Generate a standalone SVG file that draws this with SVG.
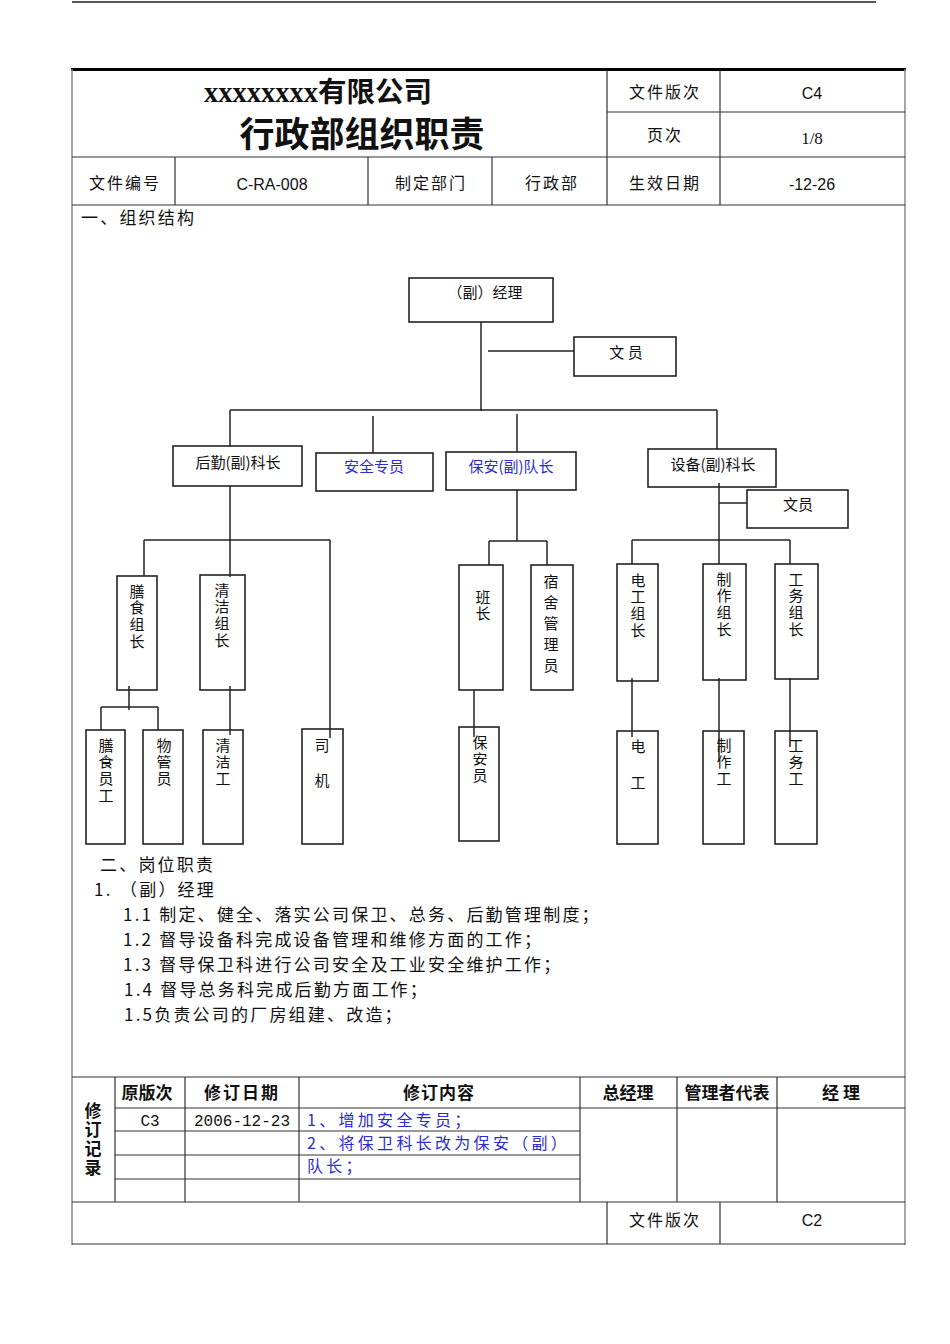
<svg xmlns="http://www.w3.org/2000/svg" width="950" height="1344" viewBox="0 0 950 1344">
<style>
.bg{fill:#fff}
.frame{stroke:#888;stroke-width:1.5;fill:none}
.grid{stroke:#333;stroke-width:1.2;fill:none}
.thick{stroke:#000;stroke-width:3;fill:none}
.bx{fill:#fff;stroke:#222;stroke-width:1.6}
.ln{stroke:#222;stroke-width:1.5;fill:none}
.t{font-family:"Noto Sans CJK SC",sans-serif;font-size:15px;fill:#111}
.c{text-anchor:middle}
.v{writing-mode:vertical-rl;text-orientation:upright;letter-spacing:1.8px}
.blue{fill:#2b2bd0}
.hd{font-family:"Noto Sans CJK SC",sans-serif;font-size:16px;fill:#111;letter-spacing:2px;text-anchor:middle}
.num{font-family:"Liberation Sans",sans-serif;font-size:16px;fill:#111;text-anchor:middle}
.body{font-family:"Noto Sans CJK SC",sans-serif;font-size:17px;fill:#111;letter-spacing:2.2px}
.bold{font-family:"Noto Sans CJK SC",sans-serif;font-weight:700;fill:#111}
.mono{font-family:"Liberation Mono",monospace;font-size:16px;fill:#111;text-anchor:middle}
.rev{font-family:"Noto Sans CJK SC",sans-serif;font-size:16px;fill:#2b2bd0;letter-spacing:3.3px}
</style>
<rect class="bg" x="0" y="0" width="950" height="1344"/>

<!-- page top rule -->
<line x1="72" y1="2" x2="876" y2="2" stroke="#222" stroke-width="1.5"/>

<!-- header table -->
<g id="header">
  <line class="thick" x1="71" y1="69.5" x2="906" y2="69.5"/>
  <line class="frame" x1="72" y1="69" x2="72" y2="1245"/>
  <line class="frame" x1="905" y1="69" x2="905" y2="1245"/>
  <line class="grid" x1="607" y1="70" x2="607" y2="205"/>
  <line class="grid" x1="720" y1="70" x2="720" y2="205"/>
  <line class="grid" x1="607" y1="112" x2="905" y2="112"/>
  <line class="grid" x1="72" y1="157" x2="905" y2="157"/>
  <line class="grid" x1="72" y1="205" x2="905" y2="205"/>
  <line class="grid" x1="175" y1="157" x2="175" y2="205"/>
  <line class="grid" x1="368" y1="157" x2="368" y2="205"/>
  <line class="grid" x1="492" y1="157" x2="492" y2="205"/>
  <text x="204" y="102" font-family="Liberation Serif,serif" font-weight="700" font-size="28.5" fill="#111">xxxxxxxx<tspan class="bold" font-size="28.5">有限公司</tspan></text>
  <text class="bold" x="362" y="147" font-size="35" text-anchor="middle">行政部组织职责</text>
  <text class="hd" x="665" y="98">文件版次</text>
  <text class="num" x="812" y="99">C4</text>
  <text class="hd" x="665" y="141">页次</text>
  <text x="812" y="144" font-family="Liberation Serif,serif" font-size="17" fill="#111" text-anchor="middle">1/8</text>
  <text class="hd" x="125" y="189">文件编号</text>
  <text class="num" x="272" y="190">C-RA-008</text>
  <text class="hd" x="431" y="189">制定部门</text>
  <text class="hd" x="552" y="189">行政部</text>
  <text class="hd" x="665" y="189">生效日期</text>
  <text class="num" x="812" y="190">-12-26</text>
</g>

<text class="body" x="81" y="224" letter-spacing="2">一、组织结构</text>

<!-- org chart nodes -->
<g id="n-mgr"><rect class="bx" x="409" y="278" width="144" height="44"/><text class="t c" x="485" y="298">（副）经理</text></g>
<g id="n-clerk1"><rect class="bx" x="574" y="337" width="102" height="39"/><text class="t c" x="626" y="358" xml:space="preserve">文 员</text></g>
<g id="n-hq"><rect class="bx" x="173" y="446" width="129" height="40"/><text class="t c" x="238" y="468" font-size="16">后勤(副)科长</text></g>
<g id="n-safety"><rect class="bx" x="316" y="453" width="117" height="38"/><text class="t c blue" x="374" y="472" font-size="16">安全专员</text></g>
<g id="n-guard"><rect class="bx" x="446" y="452" width="130" height="38"/><text class="t c blue" x="511" y="472" font-size="16">保安(副)队长</text></g>
<g id="n-equip"><rect class="bx" x="648" y="449" width="128" height="38"/><text class="t c" x="713" y="470" font-size="16">设备(副)科长</text></g>
<g id="n-clerk2"><rect class="bx" x="747" y="490" width="101" height="38"/><text class="t c" x="798" y="510">文员</text></g>

<g id="n-food-lead"><rect class="bx" x="117" y="576" width="40" height="114"/><text class="t v" x="137" y="583.5">膳食组长</text></g>
<g id="n-clean-lead"><rect class="bx" x="200" y="575" width="45" height="115"/><text class="t v" x="222" y="582.5">清洁组长</text></g>
<g id="n-food-staff"><rect class="bx" x="86" y="730" width="39" height="114"/><text class="t v" x="106" y="737.5">膳食员工</text></g>
<g id="n-store"><rect class="bx" x="143" y="730" width="40" height="114"/><text class="t v" x="164" y="737.5">物管员</text></g>
<g id="n-cleaner"><rect class="bx" x="203" y="730" width="40" height="114"/><text class="t v" x="223" y="737.5">清洁工</text></g>
<g id="n-driver"><rect class="bx" x="302" y="729" width="41" height="115"/><text class="t v" x="322" y="737.5" style="letter-spacing:20px">司机</text></g>

<g id="n-squad"><rect class="bx" x="459" y="565" width="44" height="125"/><text class="t v" x="483" y="589.5">班长</text></g>
<g id="n-dorm"><rect class="bx" x="531" y="565" width="42" height="125"/><text class="t v" x="551" y="573.5" style="letter-spacing:6px">宿舍管理员</text></g>
<g id="n-guardman"><rect class="bx" x="459" y="727" width="40" height="114"/><text class="t v" x="480" y="734.5">保安员</text></g>

<g id="n-elec-lead"><rect class="bx" x="617" y="564" width="41" height="117"/><text class="t v" x="638" y="572.5">电工组长</text></g>
<g id="n-make-lead"><rect class="bx" x="703" y="564" width="43" height="116"/><text class="t v" x="724" y="571.5">制作组长</text></g>
<g id="n-work-lead"><rect class="bx" x="775" y="564" width="43" height="115"/><text class="t v" x="796" y="571.5">工务组长</text></g>
<g id="n-elec"><rect class="bx" x="617" y="731" width="41" height="113"/><text class="t v" x="638" y="738.5" style="letter-spacing:21px">电工</text></g>
<g id="n-make"><rect class="bx" x="703" y="731" width="41" height="113"/><text class="t v" x="724" y="737.5">制作工</text></g>
<g id="n-work"><rect class="bx" x="775" y="731" width="42" height="113"/><text class="t v" x="796" y="737.5">工务工</text></g>

<!-- connectors -->
<g id="connectors" class="ln">
  <line x1="481" y1="322" x2="481" y2="411"/>
  <line x1="488" y1="351" x2="574" y2="351"/>
  <line x1="230" y1="410" x2="717" y2="410"/>
  <line x1="230" y1="410" x2="230" y2="446"/>
  <line x1="373" y1="416" x2="373" y2="453"/>
  <line x1="517" y1="414" x2="517" y2="452"/>
  <line x1="717" y1="410" x2="717" y2="449"/>

  <line x1="230" y1="486" x2="230" y2="577"/>
  <line x1="144" y1="540" x2="330" y2="540"/>
  <line x1="144" y1="540" x2="144" y2="576"/>
  <line x1="330" y1="540" x2="330" y2="738"/>
  <line x1="129" y1="686" x2="129" y2="710"/>
  <line x1="101" y1="707" x2="158" y2="707"/>
  <line x1="101" y1="707" x2="101" y2="730"/>
  <line x1="158" y1="707" x2="158" y2="730"/>
  <line x1="230" y1="686" x2="230" y2="735"/>

  <line x1="517" y1="490" x2="517" y2="541"/>
  <line x1="489" y1="541" x2="547" y2="541"/>
  <line x1="489" y1="541" x2="489" y2="565"/>
  <line x1="547" y1="541" x2="547" y2="565"/>
  <line x1="474" y1="690" x2="474" y2="737"/>

  <line x1="719" y1="483" x2="719" y2="564"/>
  <line x1="719" y1="503" x2="747" y2="503"/>
  <line x1="632" y1="540" x2="790" y2="540"/>
  <line x1="632" y1="540" x2="632" y2="564"/>
  <line x1="790" y1="540" x2="790" y2="564"/>
  <line x1="632" y1="678" x2="632" y2="737"/>
  <line x1="719" y1="678" x2="719" y2="760"/>
  <line x1="790" y1="678" x2="790" y2="747"/>
</g>

<!-- duties -->
<g id="duties">
  <text class="body" x="100" y="871" letter-spacing="2.4">二、岗位职责</text>
  <text class="body" x="94" y="896">1.<tspan x="120">（副）经理</tspan></text>
  <text class="body" x="123" y="921">1.1 制定、健全、落实公司保卫、总务、后勤管理制度；</text>
  <text class="body" x="123" y="946">1.2 督导设备科完成设备管理和维修方面的工作；</text>
  <text class="body" x="123" y="971">1.3 督导保卫科进行公司安全及工业安全维护工作；</text>
  <text class="body" x="124" y="996">1.4 督导总务科完成后勤方面工作；</text>
  <text class="body" x="124" y="1021">1.5负责公司的厂房组建、改造；</text>
</g>

<!-- revision table -->
<g id="revisions">
  <line class="grid" x1="72" y1="1077" x2="905" y2="1077"/>
  <line class="grid" x1="115" y1="1108" x2="905" y2="1108"/>
  <line class="grid" x1="115" y1="1131" x2="580" y2="1131"/>
  <line class="grid" x1="115" y1="1155" x2="580" y2="1155"/>
  <line class="grid" x1="115" y1="1179" x2="580" y2="1179"/>
  <line class="grid" x1="72" y1="1202" x2="905" y2="1202"/>
  <line class="grid" x1="72" y1="1244" x2="905" y2="1244"/>
  <line class="grid" x1="115" y1="1077" x2="115" y2="1202"/>
  <line class="grid" x1="185" y1="1077" x2="185" y2="1202"/>
  <line class="grid" x1="299" y1="1077" x2="299" y2="1202"/>
  <line class="grid" x1="580" y1="1077" x2="580" y2="1202"/>
  <line class="grid" x1="677" y1="1077" x2="677" y2="1202"/>
  <line class="grid" x1="777" y1="1077" x2="777" y2="1202"/>
  <line class="grid" x1="607" y1="1202" x2="607" y2="1244"/>
  <line class="grid" x1="720" y1="1202" x2="720" y2="1244"/>

  <text class="bold v" x="93" y="1102.5" font-size="17" style="letter-spacing:2px">修订记录</text>
  <text class="bold" x="147" y="1099" font-size="17" text-anchor="middle">原版次</text>
  <text class="bold" x="242" y="1099" font-size="17" text-anchor="middle" letter-spacing="2">修订日期</text>
  <text class="bold" x="439" y="1099" font-size="17" text-anchor="middle" letter-spacing="1">修订内容</text>
  <text class="bold" x="628" y="1099" font-size="17" text-anchor="middle">总经理</text>
  <text class="bold" x="727" y="1099" font-size="17" text-anchor="middle">管理者代表</text>
  <text class="bold" x="841" y="1099" font-size="17" text-anchor="middle" xml:space="preserve">经 理</text>

  <text class="mono" x="150" y="1126">C3</text>
  <text class="mono" x="242" y="1126">2006-12-23</text>
  <text class="rev" x="307" y="1126">1、增加安全专员；</text>
  <text class="rev" x="307" y="1149">2、将保卫科长改为保安（副）</text>
  <text class="rev" x="307" y="1172">队长；</text>

  <text class="hd" x="665" y="1226">文件版次</text>
  <text class="num" x="812" y="1226">C2</text>
</g>
</svg>
